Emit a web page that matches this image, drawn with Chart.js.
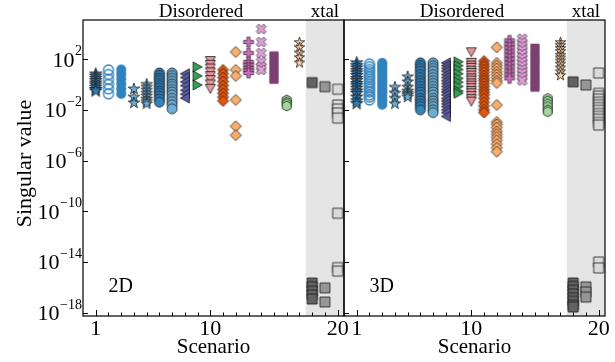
<!DOCTYPE html>
<html><head><meta charset="utf-8">
<script src="https://cdn.jsdelivr.net/npm/chart.js@4.4.1/dist/chart.umd.min.js"></script>
<style>
html,body{margin:0;padding:0;background:#fff;width:615px;height:362px;overflow:hidden}
#wrap{position:relative;width:615px;height:362px}
canvas{position:absolute;top:0}
#c1{left:0;width:350px;height:362px}
#c2{left:300px;width:315px;height:362px}
</style></head>
<body><div id="wrap"><canvas id="c1" width="350" height="362"></canvas><canvas id="c2" width="315" height="362"></canvas></div>
<script>
// ---- categories / ticks ----
const scenarios = [1,2,3,4,5,6,7,8,9,10,11,12,13,14,15,16,17,18,19,20];
const xTickLabels = [1, 10, 20];
const yTickExps = [2, -2, -6, -10, -14, -18];
const xtalBand = [17.5, 20.5];
const panelNames = ['2D', '3D'];
const regionLabels = ['Disordered', 'xtal'];

// ---- singular values, 2D panel (one array per scenario) ----
const d2_1  = [6.6, 4.5, 3, 2, 1.3, 0.9, 0.6, 0.4, 0.3];
const d2_2  = [14, 6, 2.5, 1, 0.45, 0.18];
const d2_3  = [15, 6.5, 2.7, 1.1, 0.45, 0.18];
const d2_4  = [0.44, 0.1, 0.035];
const d2_5  = [1, 0.6, 0.35, 0.2, 0.12, 0.07, 0.045, 0.03];
const d2_6  = [8, 5, 3, 2, 1.2, 0.8, 0.5, 0.3, 0.2, 0.12, 0.07, 0.04];
const d2_7  = [8, 5, 3, 1.8, 1.1, 0.7, 0.4, 0.25, 0.15, 0.08, 0.045, 0.025, 0.012];
const d2_8  = [7, 3.5, 1.6, 0.8, 0.35, 0.17, 0.085];
const d2_9  = [24, 4.7, 0.9];
const d2_10 = [70, 35, 18, 9, 4.5, 2.2, 1, 0.45];
const d2_11 = [14, 7, 3.5, 1.7, 0.8, 0.4, 0.2, 0.1, 0.05];
const d2_12 = [360, 14, 4.7, 0.06, 5e-4, 1e-4];
const d2_13 = [2200, 300, 60, 35, 20, 13, 8];
const d2_14 = [23000, 2200, 300, 60, 25, 14];
const d2_15 = [300, 220, 150, 100, 70, 50, 35, 25, 17, 12, 8, 5.5, 4, 2.8, 2, 1.5];
const d2_16 = [0.06, 0.04, 0.03, 0.02];
const d2_17 = [2000, 800, 300, 130, 50];
const d2_18 = [1.4, 2.2e-16, 1.1e-16, 5e-17, 2.5e-17, 1.2e-17];
const d2_19 = [0.66, 9e-17, 7e-18];
const d2_20 = [0.42, 0.024, 0.0115, 0.0056, 0.0022, 7e-11, 3.6e-15, 1.9e-15];

// ---- singular values, 3D panel ----
const d3_1  = [50, 30, 20, 12, 8, 5, 3, 2, 1.2, 0.8, 0.5, 0.3, 0.2, 0.1, 0.05, 0.03];
const d3_2  = [40, 25, 15, 10, 6, 4, 2.5, 1.5, 1, 0.6, 0.4, 0.25, 0.15, 0.1, 0.06];
const d3_3  = [50, 30, 18, 11, 6, 3.5, 2, 1.2, 0.7, 0.4, 0.25, 0.15, 0.08, 0.05, 0.025];
const d3_4  = [0.6, 0.2, 0.08, 0.03];
const d3_5  = [4, 1.6, 0.6, 0.3, 0.2, 0.15, 0.1];
const d3_6  = [50, 30, 18, 11, 6, 3.5, 2, 1.2, 0.7, 0.4, 0.25, 0.15, 0.08, 0.05, 0.03, 0.018, 0.01];
const d3_7  = [50, 30, 18, 11, 6, 3.5, 2, 1.2, 0.7, 0.4, 0.25, 0.15, 0.08, 0.05, 0.03, 0.018, 0.01, 0.006];
const d3_8  = [50, 30, 18, 11, 6, 3.5, 2, 1.2, 0.7, 0.4, 0.25, 0.15, 0.08, 0.05, 0.03, 0.018, 0.01, 0.006, 0.003];
const d3_9  = [60, 30, 15, 7, 3, 1.5, 0.7, 0.3, 0.2];
const d3_10 = [340, 50, 30, 20, 12, 8, 5, 3, 2, 1.2, 0.8, 0.5, 0.3, 0.2, 0.12, 0.07, 0.044];
const d3_11 = [70, 40, 25, 15, 9, 5, 3, 2, 1.2, 0.7, 0.4, 0.25, 0.15, 0.08, 0.04, 0.02, 0.01, 0.006];
const d3_12 = [850, 50, 30, 18, 10, 6, 3.5, 2, 1.3, 0.024, 1.1e-3, 7e-4, 4e-4, 2e-4, 1.2e-4, 7e-5, 4e-5, 2e-5, 1e-5, 5e-6];
const d3_13 = [3000, 1500, 800, 400, 200, 100, 50, 25, 12, 6, 3];
const d3_14 = [4000, 2000, 1000, 500, 250, 120, 60, 30, 15, 8, 4, 2];
const d3_15 = [1200, 900, 600, 400, 280, 200, 140, 100, 70, 50, 35, 25, 17, 12, 8, 5.5, 4, 2.8, 2, 1.4, 1, 0.7, 0.5, 0.36];
const d3_16 = [0.08, 0.05, 0.03, 0.018, 0.01, 0.007];
const d3_17 = [2000, 1200, 700, 400, 200, 120, 70, 40, 20, 10, 5];
const d3_18 = [1.6, 2.2e-16, 1.2e-16, 6e-17, 3e-17, 1.5e-17, 8e-18, 4e-18, 2.8e-18];
const d3_19 = [0.9, 1.1e-16, 4.3e-17, 1.7e-17];
const d3_20 = [8, 0.2, 0.12, 0.07, 0.04, 0.025, 0.015, 0.009, 0.005, 0.003, 0.0018, 0.001, 6.3e-4, 1e-14, 3.4e-15];

const panel2D = [d2_1,d2_2,d2_3,d2_4,d2_5,d2_6,d2_7,d2_8,d2_9,d2_10,d2_11,d2_12,d2_13,d2_14,d2_15,d2_16,d2_17,d2_18,d2_19,d2_20];
const panel3D = [d3_1,d3_2,d3_3,d3_4,d3_5,d3_6,d3_7,d3_8,d3_9,d3_10,d3_11,d3_12,d3_13,d3_14,d3_15,d3_16,d3_17,d3_18,d3_19,d3_20];

// ---- marker styles per scenario: shape, size, fill, edge, edge width ----
const EDGE = '#1a1a1a';
const markerSpec = [
  ['star', 13, '#3182bd', EDGE, 0.8],
  ['circle', 10, null, '#3182bd', 1.3],
  ['circle', 10, '#3182bd', null, 0],
  ['star', 12, '#6baed6', EDGE, 0.8],
  ['star', 12, '#6baed6', EDGE, 0.8],
  ['circle', 10, '#3182bd', EDGE, 0.8],
  ['circle', 10, '#6baed6', EDGE, 0.8],
  ['triL', 10, '#5b5ba8', EDGE, 0.8],
  ['triR', 10, '#31a354', EDGE, 0.8],
  ['triD', 10, '#e7969c', EDGE, 0.8],
  ['diamond', 11, '#e6550d', EDGE, 0.8],
  ['diamond', 11, '#fdae6b', EDGE, 0.8],
  ['plus', 10, '#ce6dbd', EDGE, 0.6],
  ['x', 10, '#de9ed6', EDGE, 0.6],
  ['dash', 9, '#7b4173', null, 0],
  ['hex', 10, '#a1d99b', EDGE, 0.8],
  ['star', 11, '#fdd0a2', EDGE, 0.8],
  ['square', 10, '#636363', EDGE, 0.8],
  ['square', 10, '#969696', EDGE, 0.8],
  ['square', 10, '#d9d9d9', EDGE, 0.8]
];

function makeMarker(shape, size, fill, stroke, lw) {
  const pad = Math.ceil(lw) + 1;
  const W = Math.ceil(size + 2 * pad);
  const c = document.createElement('canvas');
  c.width = W; c.height = W;
  const g = c.getContext('2d');
  const cx = W / 2, cy = W / 2, r = size / 2;
  const poly = pts => { g.moveTo(cx + pts[0][0], cy + pts[0][1]); for (let i = 1; i < pts.length; i++) g.lineTo(cx + pts[i][0], cy + pts[i][1]); };
  g.beginPath();
  if (shape === 'circle') g.arc(cx, cy, r, 0, 2 * Math.PI);
  else if (shape === 'star') { const p = []; for (let k = 0; k < 10; k++) { const a = -Math.PI / 2 + k * Math.PI / 5; const rr = k % 2 ? r * 0.382 : r; p.push([rr * Math.cos(a), rr * Math.sin(a)]); } poly(p); }
  else if (shape === 'square') g.rect(cx - r, cy - r, 2 * r, 2 * r);
  else if (shape === 'diamond') poly([[0, -r], [r, 0], [0, r], [-r, 0]]);
  else if (shape === 'triD') poly([[-r, -r * 0.9], [r, -r * 0.9], [0, r * 0.9]]);
  else if (shape === 'triL') poly([[-r * 0.9, 0], [r * 0.9, -r], [r * 0.9, r]]);
  else if (shape === 'triR') poly([[r * 0.9, 0], [-r * 0.9, -r], [-r * 0.9, r]]);
  else if (shape === 'plus') { const s = r / 3; poly([[-s,-3*s],[s,-3*s],[s,-s],[3*s,-s],[3*s,s],[s,s],[s,3*s],[-s,3*s],[-s,s],[-3*s,s],[-3*s,-s],[-s,-s]]); }
  else if (shape === 'x') { const s = r / 2; poly([[-s,-2*s],[0,-s],[s,-2*s],[2*s,-s],[s,0],[2*s,s],[s,2*s],[0,s],[-s,2*s],[-2*s,s],[-s,0],[-2*s,-s]]); }
  else if (shape === 'hex') { const p = []; for (let k = 0; k < 6; k++) { const a = -Math.PI / 2 + k * Math.PI / 3; p.push([r * Math.cos(a), r * Math.sin(a)]); } poly(p); }
  else if (shape === 'dash') g.rect(cx - r, cy - 1.7, 2 * r, 3.4);
  g.closePath();
  if (fill) { g.fillStyle = fill; g.fill(); }
  if (stroke && lw > 0) { g.strokeStyle = stroke; g.lineWidth = lw; g.stroke(); }
  return c;
}

const FONT = '"Liberation Serif", "Times New Roman", serif';
const decor = {
  id: 'decor',
  beforeDatasetsDraw(chart, args, o) {
    const { ctx, chartArea: a, scales: { x } } = chart;
    const x0 = x.getPixelForValue(xtalBand[0]);
    const x1 = x.getPixelForValue(xtalBand[1]);
    ctx.save(); ctx.fillStyle = '#e5e5e5';
    ctx.fillRect(x0, a.top, x1 - x0, a.bottom - a.top);
    ctx.restore();
  },
  afterDraw(chart, args, o) {
    const { ctx, chartArea: a, scales: { x, y } } = chart;
    ctx.save();
    ctx.strokeStyle = '#000'; ctx.lineWidth = 1.2;
    ctx.strokeRect(a.left, a.top, a.right - a.left, a.bottom - a.top);
    ctx.lineWidth = 1;
    ctx.beginPath();
    x.ticks.forEach(t => {
      const px = Math.round(x.getPixelForValue(t.value)) + 0.5;
      const len = xTickLabels.includes(t.value) ? 6 : 3.5;
      ctx.moveTo(px, a.bottom); ctx.lineTo(px, a.bottom - len);
    });
    y.ticks.forEach(t => {
      const py = Math.round(y.getPixelForValue(t.value)) + 0.5;
      ctx.moveTo(a.left, py); ctx.lineTo(a.left + 5, py);
    });
    ctx.stroke();
    ctx.fillStyle = '#000';
    // x tick labels
    ctx.font = '22px ' + FONT; ctx.textAlign = 'center'; ctx.textBaseline = 'alphabetic';
    xTickLabels.forEach(v => ctx.fillText(String(v), x.getPixelForValue(v), 335));
    // x title
    ctx.font = '21px ' + FONT;
    ctx.fillText('Scenario', (a.left + a.right) / 2, 353);
    // region labels
    ctx.font = '19px ' + FONT;
    ctx.fillText(regionLabels[0], x.getPixelForValue(9.27), 17);
    ctx.fillText(regionLabels[1], x.getPixelForValue(19.0), 17);
    // panel label
    ctx.font = '20px ' + FONT;
    ctx.fillText(o.name, x.getPixelForValue(2.97), 292);
    if (o.yLabels) {
      yTickExps.forEach(e => {
        const py = y.getPixelForValue(Math.pow(10, e));
        const es = (e < 0 ? '\u2212' : '') + Math.abs(e);
        ctx.textAlign = 'right';
        ctx.font = '14px ' + FONT;
        const ew = ctx.measureText(es).width;
        ctx.fillText(es, 82, py - 4);
        ctx.font = '22px ' + FONT;
        ctx.fillText('10', 82 - ew - 0.5, py + 7.5);
      });
      ctx.save();
      ctx.translate(31, 163.5); ctx.rotate(-Math.PI / 2);
      ctx.textAlign = 'center'; ctx.font = '22px ' + FONT;
      ctx.fillText('Singular value', 0, 0);
      ctx.restore();
    }
    ctx.restore();
  }
};

const markers = markerSpec.map(m => makeMarker(...m));

function buildChart(canvasId, panel, name, yLabels, yW, padR) {
  const datasets = panel.map((vals, i) => ({
    data: vals.map(v => ({ x: scenarios[i], y: v })),
    pointStyle: markers[i], pointRadius: 5, showLine: false
  }));
  return new Chart(document.getElementById(canvasId), {
    type: 'scatter',
    data: { datasets },
    options: {
      responsive: false, animation: false, events: [],
      layout: { padding: { left: 0, right: padR, top: 20, bottom: 0 } },
      plugins: { legend: { display: false }, tooltip: { enabled: false }, decor: { name, yLabels } },
      scales: {
        x: {
          type: 'linear', min: 0, max: 20.5,
          grid: { display: false }, border: { display: false }, ticks: { display: false },
          afterBuildTicks: s => { s.ticks = scenarios.map(v => ({ value: v })); },
          afterFit: s => { s.height = 46; }
        },
        y: {
          type: 'logarithmic', min: 5.5e-19, max: 1.2e5,
          grid: { display: false }, border: { display: false }, ticks: { display: false },
          afterBuildTicks: s => { s.ticks = yTickExps.map(e => ({ value: Math.pow(10, e) })); },
          afterFit: s => { s.width = yW; }
        }
      }
    },
    plugins: [decor]
  });
}

function go() {
  buildChart('c1', panel2D, panelNames[0], true, 83, 6);
  buildChart('c2', panel3D, panelNames[1], false, 44, 10);
}
if (document.fonts && document.fonts.load) {
  document.fonts.load('22px "Liberation Serif"').then(go, go);
} else go();
</script>
</body></html>
